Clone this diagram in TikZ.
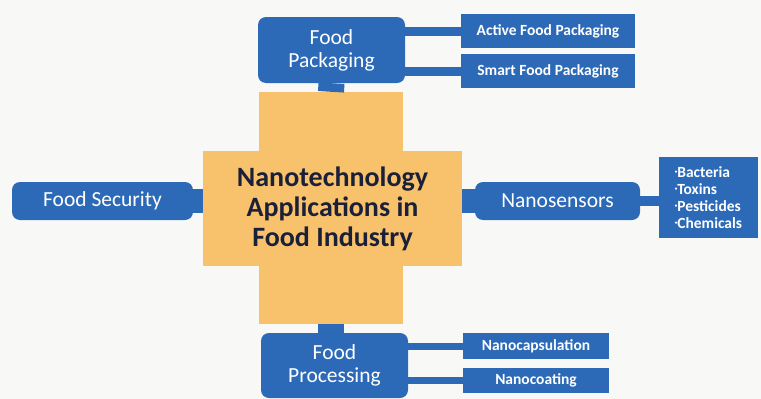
\documentclass[tikz,border=0pt]{standalone}
\usepackage{fontspec}
\setmainfont{Carlito}
\usetikzlibrary{positioning}
\definecolor{nanoblue}{RGB}{44,106,184}
\definecolor{nanoorange}{RGB}{248,193,108}
\definecolor{nanonavy}{RGB}{26,32,56}
\definecolor{nanobg}{RGB}{248,248,246}
\newcommand{\nanodot}{\raisebox{0.22em}{\tiny\textbullet}}
\tikzset{
  mainbox/.style={fill=nanoblue,text=white,rounded corners=8pt,inner sep=0pt,align=center,font=\fontsize{21.5}{23}\selectfont},
  subbox/.style={fill=nanoblue,text=white,inner sep=0pt,align=center,font=\bfseries\fontsize{15.5}{17}\selectfont},
  hubbox/.style={fill=nanoorange,inner sep=0pt,align=center,text=nanonavy,font=\bfseries\fontsize{28}{30}\selectfont},
  link/.style={draw=nanoblue,line cap=butt}
}
\begin{document}
\begin{tikzpicture}[x=1pt,y=-1pt]

\fill[nanobg] (0,0) rectangle (761,399);
\useasboundingbox (0,0) rectangle (761,399);

\node[hubbox,minimum width=144pt,minimum height=232pt] (hubv) at (331,208){};
\node[hubbox,minimum width=259pt,minimum height=115pt] (hub) at (332.5,208.5){Nanotechnology\\Applications in\\Food Industry};

\node[mainbox,minimum width=147pt,minimum height=66pt] (pack) at (331.5,50){Food\\Packaging};
\node[subbox,minimum width=174pt,minimum height=34pt] (act) at (548,31){Active Food Packaging};
\node[subbox,minimum width=174pt,minimum height=34pt] (smart) at (548,71){Smart Food Packaging};

\node[mainbox,minimum width=181pt,minimum height=38pt] (sec) at (102.5,201){Food Security};

\node[mainbox,minimum width=165pt,minimum height=38pt] (sens) at (557.5,201){Nanosensors};
\node[subbox,minimum width=99pt,minimum height=81pt,align=left] (list) at (708.5,197.5){\nanodot Bacteria\\\nanodot Toxins\\\nanodot Pesticides\\\nanodot Chemicals};

\node[mainbox,minimum width=147pt,minimum height=65pt] (proc) at (334.5,365.5){Food\\Processing};
\node[subbox,minimum width=146pt,minimum height=26pt] (caps) at (536,346){Nanocapsulation};
\node[subbox,minimum width=146pt,minimum height=25pt] (coat) at (536,380.5){Nanocoating};

\draw[link,line width=26pt] (pack.south) -- (hubv.north);
\draw[link,line width=26pt] (hubv.south) -- (hubv.south |- proc.north);
\draw[link,line width=24pt] (sec.east) -- (hub.west |- sec);
\draw[link,line width=24pt] (hub.east |- sens) -- (sens.west);
\draw[link,line width=9pt] (pack.east |- act) -- (act.west);
\draw[link,line width=9pt] (pack.east |- smart) -- (smart.west);
\draw[link,line width=10pt] (sens.east) -- (list.west |- sens);
\draw[link,line width=7pt] (proc.east |- caps) -- (caps.west);
\draw[link,line width=7pt] (proc.east |- coat) -- (coat.west);

\end{tikzpicture}
\end{document}
